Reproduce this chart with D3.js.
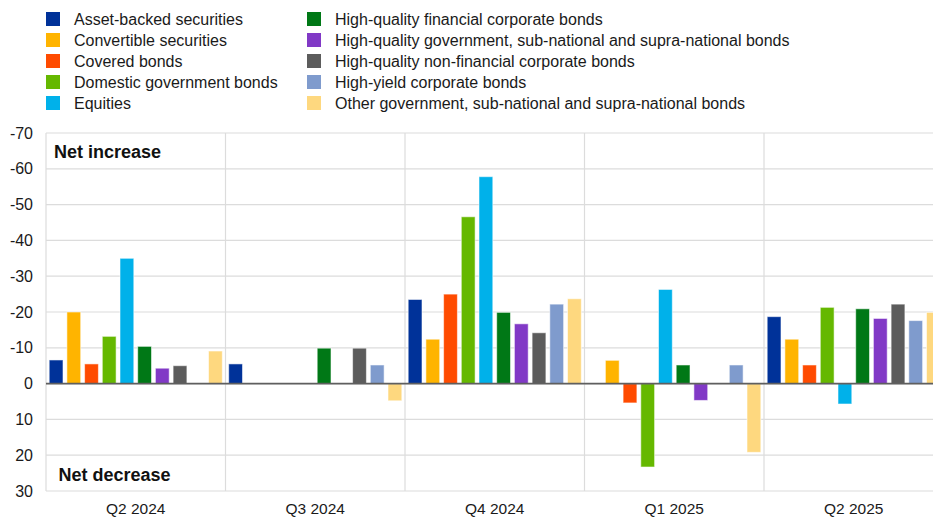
<!DOCTYPE html>
<html>
<head>
<meta charset="utf-8">
<script src="https://cdn.jsdelivr.net/npm/d3@7"></script>
<style>
  html, body { margin: 0; padding: 0; background: #fff; overflow: hidden; }
  svg { display: block; font-family: "Liberation Sans", Arial, sans-serif; }
</style>
</head>
<body>
<svg id="chart" width="933" height="517"></svg>
<script>
// Quarters on the x axis
const quarters = ["Q2 2024", "Q3 2024", "Q4 2024", "Q1 2025", "Q2 2025"];

// Asset classes (one bar per class in every quarter)
const seriesNames = [
  "Asset-backed securities",
  "Convertible securities",
  "Covered bonds",
  "Domestic government bonds",
  "Equities",
  "High-quality financial corporate bonds",
  "High-quality government, sub-national and supra-national bonds",
  "High-quality non-financial corporate bonds",
  "High-yield corporate bonds",
  "Other government, sub-national and supra-national bonds"
];

const seriesColors = [
  "#003299", "#ffb400", "#ff4b00", "#65b800", "#00b1ea",
  "#007816", "#8139c6", "#5c5c5c", "#7f9bcd", "#fed87f"
];

// Values per asset class, one per quarter (negative = net increase)
const assetBacked      = [-6.6, -5.5, -23.5,   0.0, -18.7];
const convertible      = [-20.0,  0.0, -12.4, -6.5, -12.4];
const covered          = [-5.5,  0.0, -25.0,   5.4,  -5.2];
const domesticGov      = [-13.2,  0.0, -46.6, 23.3, -21.3];
const equities         = [-35.0,  0.0, -57.8, -26.3,  5.7];
const hqFinancial      = [-10.4, -9.9, -19.9, -5.2, -20.9];
const hqGovernment     = [-4.3,  0.0, -16.7,   4.7, -18.2];
const hqNonFinancial   = [-5.0, -9.9, -14.2,   0.0, -22.2];
const highYield        = [0.0, -5.2, -22.2,  -5.2, -17.6];
const otherGovernment  = [-9.1,  4.8, -23.7,  19.2, -19.9];

const seriesValues = [
  assetBacked, convertible, covered, domesticGov, equities,
  hqFinancial, hqGovernment, hqNonFinancial, highYield, otherGovernment
];

// Y axis ticks
const yTicks = [-70, -60, -50, -40, -30, -20, -10, 0, 10, 20, 30];

const svg = d3.select("#chart");

const plot = { left: 46, right: 943.5, top: 133, bottom: 491 };

const x = d3.scaleBand()
  .domain(quarters)
  .range([plot.left, plot.right])
  .padding(0);

const xInner = d3.scaleBand()
  .domain(d3.range(seriesNames.length))
  .range([0, x.bandwidth()])
  .paddingInner(0.22)
  .paddingOuter(0.18);

const y = d3.scaleLinear()
  .domain([-70, 30])
  .range([plot.top, plot.bottom]);

const grid = svg.append("g").attr("class", "grid");

// Horizontal gridlines
grid.selectAll("line.h")
  .data(yTicks)
  .join("line")
  .attr("class", "h")
  .attr("x1", plot.left).attr("x2", plot.right)
  .attr("y1", d => y(d)).attr("y2", d => y(d))
  .attr("stroke", "#dcdcdc")
  .attr("stroke-width", 1.2);

// Vertical separators between quarters (plus left edge)
grid.selectAll("line.v")
  .data(quarters)
  .join("line")
  .attr("class", "v")
  .attr("x1", d => x(d)).attr("x2", d => x(d))
  .attr("y1", plot.top).attr("y2", plot.bottom)
  .attr("stroke", "#dcdcdc")
  .attr("stroke-width", 1.2);

// Bars
const groups = svg.append("g").attr("class", "bars")
  .selectAll("g")
  .data(quarters)
  .join("g")
  .attr("transform", d => `translate(${x(d)},0)`);

groups.selectAll("rect")
  .data((q, qi) => seriesValues.map((vals, si) => ({ si, v: vals[qi] })).filter(d => d.v !== 0))
  .join("rect")
  .attr("x", d => xInner(d.si))
  .attr("width", xInner.bandwidth())
  .attr("y", d => Math.min(y(0), y(d.v)))
  .attr("height", d => Math.abs(y(d.v) - y(0)))
  .attr("fill", d => seriesColors[d.si])
  .attr("stroke", "rgba(255,255,255,0.55)")
  .attr("stroke-width", 1);

// Zero line
svg.append("line")
  .attr("x1", plot.left).attr("x2", plot.right)
  .attr("y1", y(0)).attr("y2", y(0))
  .attr("stroke", "#5f5f5f")
  .attr("stroke-width", 1.6);

// Y axis labels
const yAxis = svg.append("g")
  .attr("transform", `translate(${plot.left},0)`)
  .call(d3.axisLeft(y).tickValues(yTicks).tickSize(0).tickPadding(13).tickFormat(d => String(d)));
yAxis.select(".domain").remove();
yAxis.selectAll("text")
  .attr("font-size", 16)
  .attr("font-family", "Liberation Sans, Arial, sans-serif")
  .attr("fill", "#1a1a1a");

// X axis labels
const xAxis = svg.append("g")
  .attr("transform", `translate(0,${plot.bottom})`)
  .call(d3.axisBottom(x).tickSize(0).tickPadding(12));
xAxis.select(".domain").remove();
xAxis.selectAll("text")
  .attr("font-size", 15.5)
  .attr("font-family", "Liberation Sans, Arial, sans-serif")
  .attr("fill", "#1a1a1a");

// Direction annotations
svg.append("text")
  .attr("x", 54).attr("y", 157.5)
  .attr("font-size", 18).attr("font-weight", "bold")
  .attr("fill", "#111")
  .text("Net increase");
svg.append("text")
  .attr("x", 58.5).attr("y", 481)
  .attr("font-size", 18).attr("font-weight", "bold")
  .attr("fill", "#111")
  .text("Net decrease");

// Legend in two columns
const legendCols = [{ sx: 46, tx: 74 }, { sx: 307, tx: 335 }];
const legend = svg.append("g").attr("class", "legend")
  .selectAll("g")
  .data(seriesNames)
  .join("g")
  .attr("transform", (d, i) => {
    const col = legendCols[Math.floor(i / 5)];
    return `translate(${col.sx},${19 + 21 * (i % 5)})`;
  });
legend.append("rect")
  .attr("x", 0).attr("y", -7)
  .attr("width", 14).attr("height", 14)
  .attr("fill", (d, i) => seriesColors[i]);
legend.append("text")
  .attr("x", 28).attr("y", 0).attr("dy", "0.36em")
  .attr("font-size", 16)
  .attr("fill", "#1a1a1a")
  .text(d => d);
</script>
</body>
</html>
